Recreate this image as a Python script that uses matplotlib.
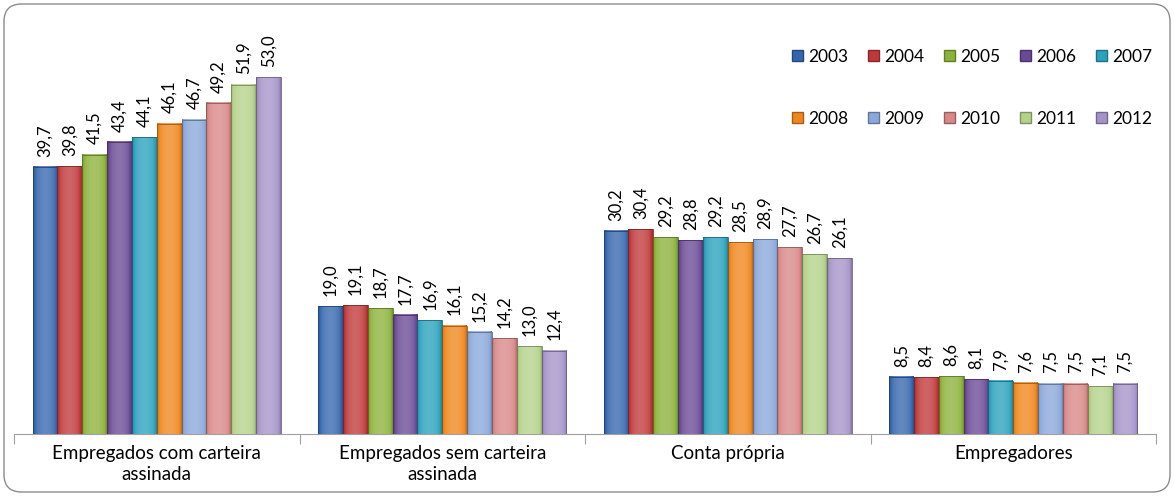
import numpy as np
import matplotlib.pyplot as plt
from matplotlib.patches import FancyBboxPatch, Patch
from matplotlib.colors import to_rgb

plt.rcParams['font.family'] = ['Lato', 'DejaVu Sans']

categories = ['Empregados com carteira\nassinada', 'Empregados sem carteira\nassinada',
              'Conta própria', 'Empregadores']
years = ['2003', '2004', '2005', '2006', '2007', '2008', '2009', '2010', '2011', '2012']
values = {
    '2003': [39.7, 19.0, 30.2, 8.5],
    '2004': [39.8, 19.1, 30.4, 8.4],
    '2005': [41.5, 18.7, 29.2, 8.6],
    '2006': [43.4, 17.7, 28.8, 8.1],
    '2007': [44.1, 16.9, 29.2, 7.9],
    '2008': [46.1, 16.1, 28.5, 7.6],
    '2009': [46.7, 15.2, 28.9, 7.5],
    '2010': [49.2, 14.2, 27.7, 7.5],
    '2011': [51.9, 13.0, 26.7, 7.1],
    '2012': [53.0, 12.4, 26.1, 7.5],
}
colors = ['#3566ad', '#c0383a', '#8cb23b', '#6a4995', '#2aa2bd',
          '#f0861c', '#8aa8da', '#d98787', '#b4d28a', '#a593c8']


def shade(c, f):
    r = np.array(to_rgb(c))
    if f >= 0:
        return r + (1 - r) * f
    return r * (1 + f)


fig = plt.figure(figsize=(11.74, 4.96), dpi=100)
ax = fig.add_axes([14 / 1174, 62 / 496, 1142 / 1174, 404 / 496])

x = np.arange(len(categories))
w = 0.087
n = len(years)
handles = []
for i, yr in enumerate(years):
    pos = x + (i - (n - 1) / 2) * w
    bars = ax.bar(pos, values[yr], w, color=colors[i], edgecolor='none', zorder=2)
    # horizontal gradient for a rounded look
    prof = np.linspace(-1, 1, 40)
    fac = 0.22 * (1 - prof ** 2) - 0.2 * prof ** 8
    grad = np.array([shade(colors[i], f) for f in fac])[None, :, :]
    for b, v in zip(bars, values[yr]):
        x0, wd = b.get_x(), b.get_width()
        ax.imshow(grad, extent=[x0, x0 + wd, 0, v], aspect='auto', zorder=3,
                  interpolation='bilinear')
        ax.text(x0 + wd / 2, v + 1.5, f'{v:.1f}'.replace('.', ','), rotation=90,
                ha='center', va='bottom', fontsize=12, color='black')
    ax.bar(pos, values[yr], w, fill=False, edgecolor=shade(colors[i], -0.35),
           linewidth=0.6, zorder=4)
    handles.append(Patch(facecolor=colors[i], edgecolor=shade(colors[i], -0.3), label=yr))

ax.set_xlim(-0.5, 3.5)
ax.set_ylim(0, 60)
ax.set_yticks([])
for s in ['top', 'right', 'left']:
    ax.spines[s].set_visible(False)
ax.spines['bottom'].set_color('#a0a0a0')
ax.set_xticks(np.arange(-0.5, 4, 1))
ax.set_xticklabels([])
ax.tick_params(axis='x', which='major', length=7, color='#a0a0a0')
ax.set_xticks(x, minor=True)
ax.set_xticklabels(categories, minor=True, fontsize=13.5, multialignment='center',
                   linespacing=1.3)
ax.tick_params(axis='x', which='minor', length=0, pad=8)

order = [0, 5, 1, 6, 2, 7, 3, 8, 4, 9]
fig.legend([handles[k] for k in order], [years[k] for k in order], ncol=5,
           loc='upper left', bbox_to_anchor=(776 / 1174, 1 - 33 / 496), frameon=False,
           fontsize=12.5, handlelength=0.63, handleheight=0.63, handletextpad=0.3,
           columnspacing=1.15, labelspacing=2.65)

border = FancyBboxPatch((4 / 1174, 4 / 496), 1166 / 1174, 488 / 496,
                        boxstyle='round,pad=0,rounding_size=0.015',
                        transform=fig.transFigure, fill=False, edgecolor='#8c8c8c',
                        linewidth=1.0, mutation_aspect=1174 / 496)
fig.patches.append(border)

fig.savefig('out.png', dpi=100)
